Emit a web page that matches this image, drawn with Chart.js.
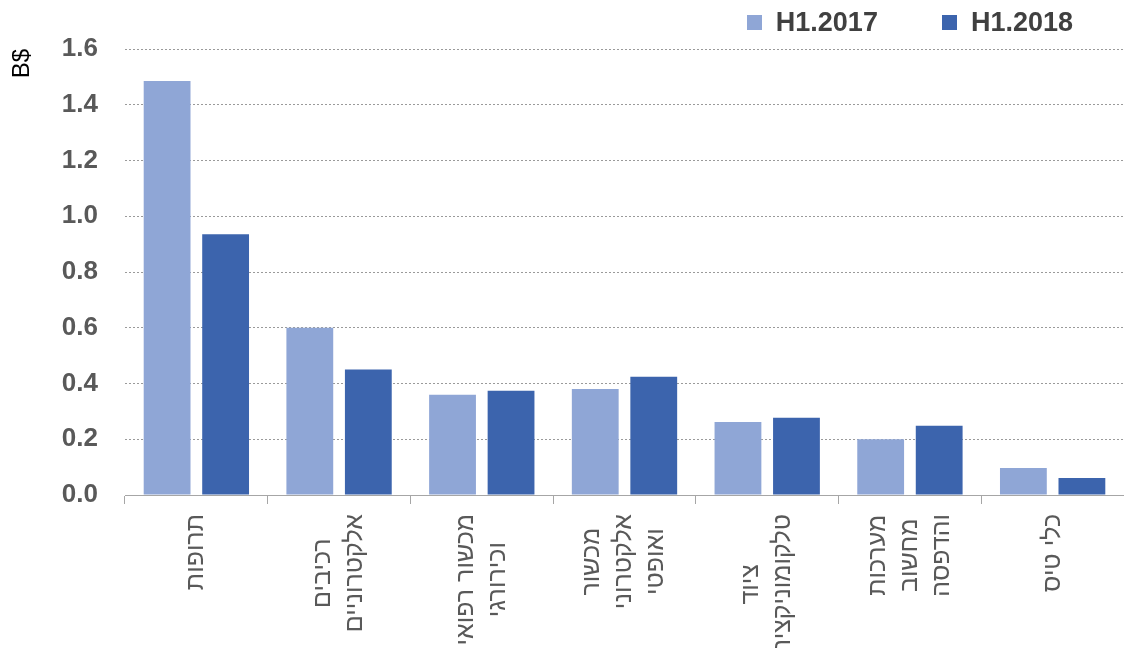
<!DOCTYPE html>
<html>
<head>
<meta charset="utf-8">
<script src="https://cdn.jsdelivr.net/npm/chart.js@4"></script>
<style>
    body { margin: 0; background: #fff; }
    #wrap { position: relative; width: 1124px; height: 648px; overflow: hidden; }
    #legend {
        position: absolute; top: 7px; right: 51px;
        display: flex; gap: 64px;
        font: bold 27px "Liberation Sans", Arial, sans-serif; color: #404040;
    }
    #legend span.item { display: flex; align-items: center; }
    #legend span.box { width: 15px; height: 15px; margin-right: 14px; display: inline-block; }
</style>
</head>
<body>
<div id="wrap">
    <canvas id="reportChart"></canvas>
    <div id="legend"></div>
</div>
<script>
const categories = [
    ['תרופות'],
    ['רכיבים', 'אלקטרוניים'],
    ['מכשור רפואי', 'וכירורגי'],
    ['מכשור', 'אלקטרוני', 'ואופטי'],
    ['ציוד', 'טלקומוניקציה'],
    ['מערכות', 'מחשוב', 'והדפסה'],
    ['כלי טיס']
];
const h2017 = [1.485, 0.60, 0.36, 0.38, 0.262, 0.20, 0.097];
const h2018 = [0.935, 0.45, 0.374, 0.424, 0.277, 0.248, 0.061];
const seriesNames = ['H1.2017', 'H1.2018'];
const yTicks = [0, 0.2, 0.4, 0.6, 0.8, 1.0, 1.2, 1.4, 1.6];

const ctx = document.getElementById('reportChart');

// x labels: rotated, lines centred on each other (like the original)
const xLabels = {
    id: 'xLabels',
    afterDraw(chart) {
        const c = chart.ctx;
        const xs = chart.scales.x;
        c.save();
        c.font = '25px "Liberation Sans", Arial, sans-serif';
        c.fillStyle = '#595959';
        c.textAlign = 'center';
        c.textBaseline = 'middle';
        const lh = 32;
        categories.forEach((lines, i) => {
            const x = xs.getPixelForValue(i);
            const maxW = Math.max(...lines.map(l => c.measureText(l).width));
            c.save();
            c.translate(x, xs.top + 19);
            c.rotate(-Math.PI / 2);
            lines.forEach((l, j) => {
                c.fillText(l, -maxW / 2, (j - (lines.length - 1) / 2) * lh);
            });
            c.restore();
        });
        c.restore();
    }
};

const chart = new Chart(ctx, {
    type: 'bar',
    data: {
        labels: categories,
        datasets: [{
            label: seriesNames[0],
            data: h2017,
            backgroundColor: '#8FA6D6',
            borderWidth: 0
        }, {
            label: seriesNames[1],
            data: h2018,
            backgroundColor: '#3C64AD',
            borderWidth: 0
        }]
    },
    options: {
        responsive: true,
        maintainAspectRatio: false,
        animation: false,
        layout: {
            padding: { top: 49, bottom: 144, left: 0, right: -4 }
        },
        plugins: {
            legend: { display: false },
            tooltip: { enabled: false }
        },
        datasets: {
            bar: { categoryPercentage: 0.82, barPercentage: 0.8 }
        },
        scales: {
            x: {
                ticks: { display: false },
                grid: {
                    drawOnChartArea: false,
                    drawTicks: true,
                    tickLength: 9,
                    color: '#a6a6a6'
                },
                border: { color: '#a6a6a6' }
            },
            y: {
                min: 0,
                max: 1.6,
                afterFit(scale) { scale.width = 125; },
                afterBuildTicks(scale) {
                    scale.ticks = yTicks.map(v => ({ value: v }));
                },
                ticks: {
                    padding: 27,
                    color: '#595959',
                    font: { family: '"Liberation Sans", Arial, sans-serif', size: 26, weight: 'bold' },
                    callback: v => Number(v).toFixed(1)
                },
                grid: {
                    drawTicks: false,
                    color: ctx => ctx.tick && ctx.tick.value === 0 ? 'rgba(0,0,0,0)' : '#9a9a9a'
                },
                border: { display: false, dash: [2, 2] },
                title: {
                    display: true,
                    text: 'B$',
                    align: 'end',
                    color: '#000',
                    padding: { top: 8, bottom: 0 },
                    font: { family: '"Liberation Sans", Arial, sans-serif', size: 24 }
                }
            }
        }
    },
    plugins: [xLabels]
});

// legend built from the datasets
const legend = document.getElementById('legend');
chart.data.datasets.forEach(ds => {
    const item = document.createElement('span');
    item.className = 'item';
    const box = document.createElement('span');
    box.className = 'box';
    box.style.background = ds.backgroundColor;
    item.appendChild(box);
    item.appendChild(document.createTextNode(ds.label));
    legend.appendChild(item);
});
</script>
</body>
</html>
